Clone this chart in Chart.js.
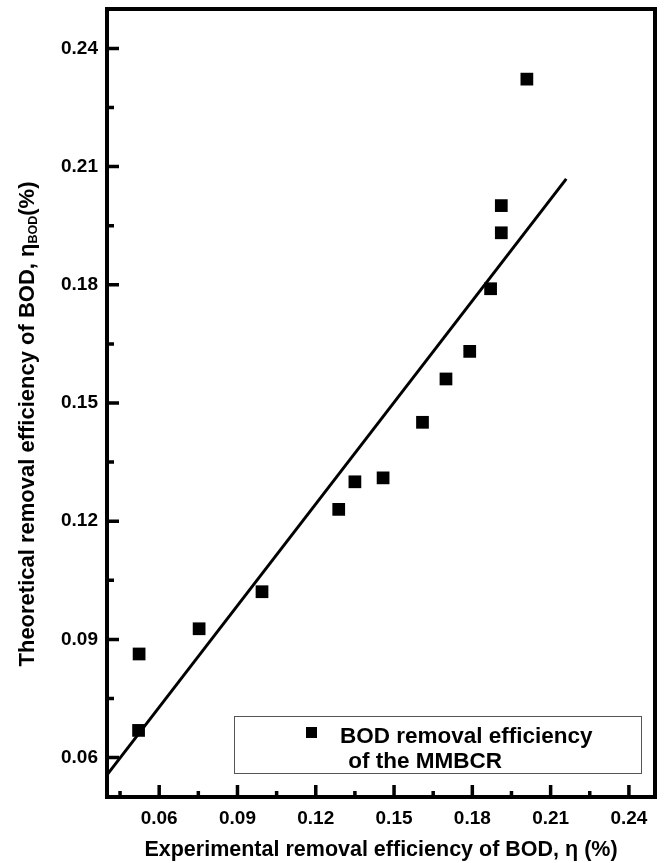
<!DOCTYPE html>
<html>
<head>
<meta charset="utf-8">
<script src="https://cdn.jsdelivr.net/npm/chart.js@4/dist/chart.umd.min.js"></script>
<style>
    html, body { margin: 0; padding: 0; background: #fff; }
    #wrap { width: 664px; height: 863px; }
</style>
</head>
<body>
<div id="wrap"><canvas id="bod-chart" width="664" height="863"></canvas></div>
<script>
// experimental (x) vs theoretical (y) BOD removal efficiency
const expEff = [0.0523, 0.0521, 0.0753, 0.0994, 0.1288, 0.1350, 0.1458, 0.1609, 0.1699, 0.1790, 0.1870, 0.1911, 0.1911, 0.2009];
const theoEff = [0.0863, 0.0669, 0.0927, 0.1021, 0.1230, 0.1300, 0.1310, 0.1451, 0.1561, 0.1631, 0.1790, 0.1932, 0.2001, 0.2322];

// fitted line, end points
const fitX = [0.040, 0.216];
const fitY = [0.0556, 0.2069];

const xTicks = [0.06, 0.09, 0.12, 0.15, 0.18, 0.21, 0.24];
const xMinorTicks = [0.045, 0.075, 0.105, 0.135, 0.165, 0.195, 0.225];
const yTicks = [0.06, 0.09, 0.12, 0.15, 0.18, 0.21, 0.24];
const yMinorTicks = [0.075, 0.105, 0.135, 0.165, 0.195, 0.225];

const legendLines = ['BOD removal efficiency', ' of the MMBCR'];
const xTitle = 'Experimental removal efficiency of BOD, \u03b7 (%)';
const yTitleMain = 'Theoretical removal efficiency of BOD, \u03b7';
const yTitleSub = 'BOD';
const yTitleEnd = '(%)';

const FONT = '"Liberation Sans", Arial, Helvetica, sans-serif';

const frameTicks = {
    id: 'frameTicks',
    afterDraw(chart) {
        const { ctx, chartArea: a, scales: { x, y } } = chart;
        ctx.save();
        ctx.strokeStyle = '#000';
        ctx.lineWidth = 4;
        ctx.strokeRect(a.left, a.top, a.right - a.left, a.bottom - a.top);

        ctx.lineWidth = 3.5;
        ctx.beginPath();
        xTicks.forEach((v) => {
            const px = x.getPixelForValue(v);
            ctx.moveTo(px, a.bottom);
            ctx.lineTo(px, a.bottom - 12);
        });
        xMinorTicks.forEach((v) => {
            const px = x.getPixelForValue(v);
            ctx.moveTo(px, a.bottom);
            ctx.lineTo(px, a.bottom - 6);
        });
        yTicks.forEach((v) => {
            const py = y.getPixelForValue(v);
            ctx.moveTo(a.left, py);
            ctx.lineTo(a.left + 12, py);
        });
        yMinorTicks.forEach((v) => {
            const py = y.getPixelForValue(v);
            ctx.moveTo(a.left, py);
            ctx.lineTo(a.left + 7, py);
        });
        ctx.stroke();

        // legend box
        ctx.fillStyle = '#fff';
        ctx.fillRect(234, 716, 408, 58);
        ctx.lineWidth = 1;
        ctx.strokeStyle = '#555';
        ctx.strokeRect(234.5, 716.5, 407, 57);
        ctx.fillStyle = '#000';
        ctx.fillRect(306, 727, 11, 11);
        ctx.font = 'bold 22.5px ' + FONT;
        ctx.textBaseline = 'alphabetic';
        ctx.textAlign = 'left';
        ctx.fillText(legendLines[0], 340, 743);
        ctx.fillText(legendLines[1], 342, 768);

        // y title with subscript
        ctx.translate(28, 424);
        ctx.rotate(-Math.PI / 2);
        const big = 'bold 22px ' + FONT;
        const small = 'bold 12.5px ' + FONT;
        ctx.font = big;
        const w1 = ctx.measureText(yTitleMain).width;
        const w3 = ctx.measureText(yTitleEnd).width;
        ctx.font = small;
        const w2 = ctx.measureText(yTitleSub).width;
        let cx = -(w1 + w2 + w3) / 2;
        ctx.textBaseline = 'middle';
        ctx.font = big;
        ctx.fillText(yTitleMain, cx, 0);
        cx += w1;
        ctx.font = small;
        ctx.fillText(yTitleSub, cx, 6);
        cx += w2;
        ctx.font = big;
        ctx.fillText(yTitleEnd, cx, 0);
        ctx.restore();
    },
};

function initChart() {
    const ctx = document.getElementById('bod-chart').getContext('2d');
    const points = expEff.map((v, i) => ({ x: v, y: theoEff[i] }));
    const fit = fitX.map((v, i) => ({ x: v, y: fitY[i] }));

    new Chart(ctx, {
        type: 'scatter',
        data: {
            datasets: [
                {
                    label: 'BOD removal efficiency of the MMBCR',
                    data: points,
                    pointStyle: 'rect',
                    pointRadius: 9,
                    pointHoverRadius: 9,
                    backgroundColor: '#000',
                    borderWidth: 0,
                    order: 1,
                },
                {
                    type: 'line',
                    label: 'fit',
                    data: fit,
                    borderColor: '#000',
                    borderWidth: 3,
                    pointRadius: 0,
                    fill: false,
                    tension: 0,
                    order: 2,
                },
            ],
        },
        options: {
            responsive: false,
            animation: false,
            devicePixelRatio: 1,
            layout: { padding: { top: 8, right: 9, left: 0, bottom: 0 } },
            plugins: {
                legend: { display: false },
                tooltip: { enabled: false },
            },
            scales: {
                x: {
                    type: 'linear',
                    min: 0.04,
                    max: 0.25,
                    grid: { display: false, drawTicks: false },
                    border: { display: false },
                    afterBuildTicks: (s) => { s.ticks = xTicks.map((v) => ({ value: v })); },
                    afterFit: (s) => {
                        s.height = 66;
                        s.paddingLeft = 0;
                        s.paddingRight = 0;
                    },
                    ticks: {
                        color: '#000',
                        padding: 10,
                        maxRotation: 0,
                        font: { size: 19, weight: 'bold', family: FONT },
                        callback: (v) => Number(v).toFixed(2),
                    },
                    title: {
                        display: true,
                        text: xTitle,
                        color: '#000',
                        padding: { top: 0, bottom: 0 },
                        font: { size: 21.5, weight: 'bold', family: FONT },
                    },
                },
                y: {
                    type: 'linear',
                    min: 0.05,
                    max: 0.25,
                    grid: { display: false, drawTicks: false },
                    border: { display: false },
                    afterBuildTicks: (s) => { s.ticks = yTicks.map((v) => ({ value: v })); },
                    afterFit: (s) => {
                        s.width = 107;
                        s.paddingTop = 0;
                        s.paddingBottom = 0;
                    },
                    ticks: {
                        color: '#000',
                        padding: 9,
                        font: { size: 19, weight: 'bold', family: FONT },
                        callback: (v) => Number(v).toFixed(2),
                    },
                },
            },
        },
        plugins: [frameTicks],
    });
}

document.addEventListener('DOMContentLoaded', initChart);
</script>
</body>
</html>
